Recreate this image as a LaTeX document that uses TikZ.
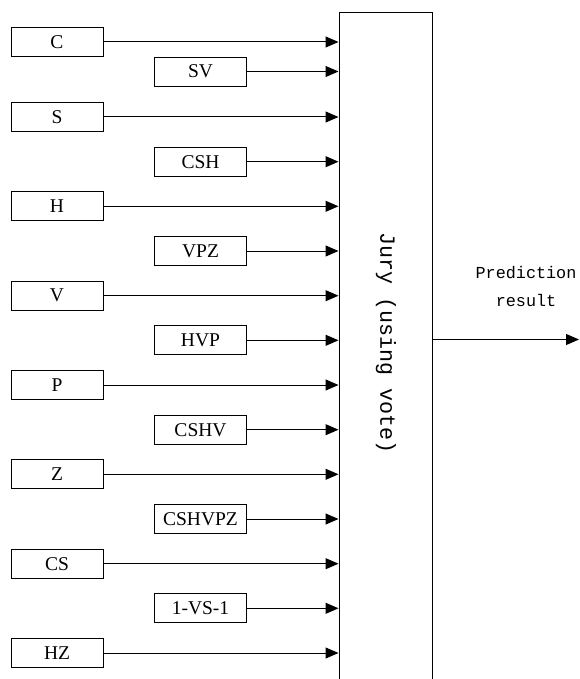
\documentclass[tikz,border=0pt]{standalone}
\usepackage{fontspec}
\setmainfont{Liberation Serif}
\setmonofont{Liberation Mono}
\usepackage{tikz}
\usetikzlibrary{arrows.meta,positioning}
\tikzset{inbox/.style={draw,line width=0.9pt,minimum width=92pt,minimum height=29pt,inner sep=0pt,font=\fontsize{19.5}{22}\selectfont}}
\tikzset{jurybox/.style={draw,line width=1pt,minimum width=93pt,minimum height=700pt,anchor=north}}
\tikzset{monotext/.style={font=\ttfamily\fontsize{16.8}{28}\selectfont,align=center}}
\tikzstyle{arrow} = [-{Triangle[length=13pt,width=11pt]},line width=1pt]

\begin{document}
\begin{tikzpicture}[x=1pt,y=-1pt]
	\useasboundingbox (0,0) rectangle (579,679);
	\clip (0,0) rectangle (579,679);
	
	% jury
	\node[jurybox] (jury) at (385.5,12) {};
	\node[rotate=-90,font=\ttfamily\fontsize{21.7}{26}\selectfont] (jurylbl) at (386,343) {Jury (using vote)};
	
	% single feature classifiers
	\node[inbox] (c) at (57,42) {C};
	\node[inbox] (s) at (57,117) {S};
	\node[inbox] (h) at (57,206.3) {H};
	\node[inbox] (v) at (57,295.7) {V};
	\node[inbox] (p) at (57,385) {P};
	\node[inbox] (z) at (57,474.3) {Z};
	\node[inbox] (cs) at (57,563.7) {CS};
	\node[inbox] (hz) at (57,653) {HZ};
	
	% combined classifiers
	\node[inbox] (sv) at (200.5,71.5) {SV};
	\node[inbox] (csh) at (200.5,161.7) {CSH};
	\node[inbox] (vpz) at (200.5,251) {VPZ};
	\node[inbox] (hvp) at (200.5,340.3) {HVP};
	\node[inbox] (cshv) at (200.5,429.7) {CSHV};
	\node[inbox] (cshvpz) at (200.5,519) {CSHVPZ};
	\node[inbox] (ovso) at (200.5,608.3) {1-VS-1};
	
	\draw[arrow] (c.east) -- (c.east -| jury.west);
	\draw[arrow] (sv.east) -- (sv.east -| jury.west);
	\draw[arrow] (s.east) -- (s.east -| jury.west);
	\draw[arrow] (csh.east) -- (csh.east -| jury.west);
	\draw[arrow] (h.east) -- (h.east -| jury.west);
	\draw[arrow] (vpz.east) -- (vpz.east -| jury.west);
	\draw[arrow] (v.east) -- (v.east -| jury.west);
	\draw[arrow] (hvp.east) -- (hvp.east -| jury.west);
	\draw[arrow] (p.east) -- (p.east -| jury.west);
	\draw[arrow] (cshv.east) -- (cshv.east -| jury.west);
	\draw[arrow] (z.east) -- (z.east -| jury.west);
	\draw[arrow] (cshvpz.east) -- (cshvpz.east -| jury.west);
	\draw[arrow] (cs.east) -- (cs.east -| jury.west);
	\draw[arrow] (ovso.east) -- (ovso.east -| jury.west);
	\draw[arrow] (hz.east) -- (hz.east -| jury.west);
	
	% output
	\coordinate (res) at (579,339.5);
	\draw[arrow] (jury.east |- res) -- (res);
	\node[monotext] (reslbl) at (526,286) {Prediction\\result};
\end{tikzpicture}
\end{document}
